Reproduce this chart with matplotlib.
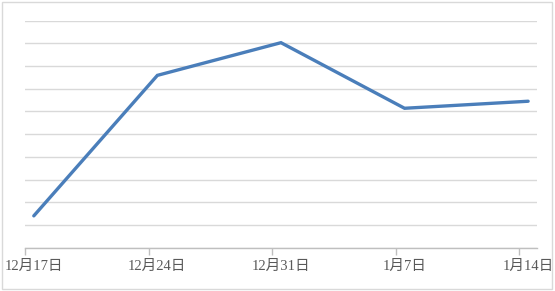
import datetime as dt

import matplotlib
matplotlib.use('Agg')
import matplotlib.dates as mdates
import matplotlib.pyplot as plt
from matplotlib.patches import Rectangle
from matplotlib.ticker import FixedLocator, NullFormatter

dates = [dt.date(2017, 12, 17), dt.date(2017, 12, 24), dt.date(2017, 12, 31),
         dt.date(2018, 1, 7), dt.date(2018, 1, 14)]
values = [1.40, 7.59, 9.03, 6.14, 6.45]
tick_labels = ['12月17日', '12月24日', '12月31日', '1月7日', '1月14日']

LINE = '#4A7EBA'
GRID = '#D9D9D9'
TEXT = '#595959'

plt.rcParams['font.family'] = ['Liberation Serif', 'Noto Sans CJK SC']

fig = plt.figure(figsize=(5.55, 2.91), dpi=100)
fig.patches.append(Rectangle((0.004, 0.006), 0.991, 0.988, transform=fig.transFigure,
                             fill=False, edgecolor=GRID, linewidth=1))

ax = fig.add_axes([0.045, 0.149, 0.9225, 0.78])

# date axis with each day as a slot: points sit in the middle of the day
day0 = mdates.date2num(dates)
ax.plot(day0 + 0.5, values, color=LINE, linewidth=2.4, solid_capstyle='round',
        solid_joinstyle='miter', zorder=3)

ax.set_xlim(day0[0], day0[-1] + 1)
ax.set_ylim(0, 10)
ax.set_yticks(range(0, 11))
ax.yaxis.grid(True, color=GRID, linewidth=1)
ax.tick_params(axis='y', left=False, labelleft=False)

ax.xaxis.set_major_locator(FixedLocator(day0))
ax.xaxis.set_major_formatter(NullFormatter())
ax.xaxis.set_minor_locator(FixedLocator(day0 + 0.5))
ax.set_xticklabels(tick_labels, minor=True)
ax.tick_params(axis='x', which='major', length=5, color='#BFBFBF', width=1)
ax.tick_params(axis='x', which='minor', length=0, pad=9, labelsize=10.5, labelcolor=TEXT)

for side in ('left', 'right', 'top'):
    ax.spines[side].set_visible(False)
ax.spines['bottom'].set_color('#BFBFBF')
ax.spines['bottom'].set_linewidth(1)

fig.savefig('out.png', dpi=100)
